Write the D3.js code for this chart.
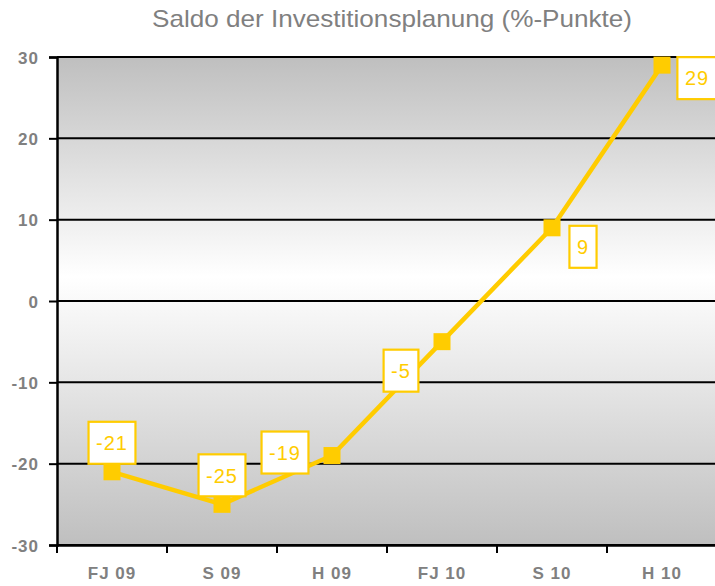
<!DOCTYPE html>
<html><head><meta charset="utf-8">
<script src="https://cdn.jsdelivr.net/npm/d3@7"></script>
<style>html,body{margin:0;padding:0;background:#fff;overflow:hidden}svg{display:block}</style>
</head><body>
<script>
const categories = ["FJ 09", "S 09", "H 09", "FJ 10", "S 10", "H 10"];
const values = [-21, -25, -19, -5, 9, 29];
const yTicks = [-30, -20, -10, 0, 10, 20, 30];
const title = "Saldo der Investitionsplanung (%-Punkte)";
// label box offsets (layout only)
const labelOffsets = [[0, -29], [0, -29], [-47, -3], [-41, 29], [31, 19], [35, 13]];

const W = 715, H = 586;
const m = {left: 57, top: 57, right: -2, bottom: 41};
const svg = d3.select("body").append("svg").attr("width", W).attr("height", H);

const x = d3.scaleBand().domain(categories).range([m.left, W - m.right]).padding(0);
const y = d3.scaleLinear().domain([-30, 30]).range([H - m.bottom, m.top]);
const fmt = d => String(d);

const defs = svg.append("defs");
const g = defs.append("linearGradient").attr("id", "bg").attr("x1", 0).attr("y1", 0).attr("x2", 0).attr("y2", 1);
g.append("stop").attr("offset", "0%").attr("stop-color", "#bfbfbf");
g.append("stop").attr("offset", "45%").attr("stop-color", "#ffffff");
g.append("stop").attr("offset", "100%").attr("stop-color", "#bfbfbf");

svg.append("rect").attr("x", m.left).attr("y", y(30)).attr("width", W - m.right - m.left)
  .attr("height", y(-30) - y(30)).attr("fill", "url(#bg)");

// gridlines
svg.append("g").selectAll("line").data(yTicks).join("line")
  .attr("x1", m.left).attr("x2", W - m.right)
  .attr("y1", d => y(d)).attr("y2", d => y(d))
  .attr("stroke", "#000").attr("stroke-width", 2);

// y axis
const ya = svg.append("g").attr("transform", `translate(${m.left},0)`)
  .call(d3.axisLeft(y).tickValues(yTicks).tickSize(8).tickPadding(10).tickFormat(fmt));
ya.select(".domain").attr("stroke", "#000").attr("stroke-width", 2.5);
ya.selectAll(".tick line").attr("stroke", "#000").attr("stroke-width", 2);
ya.selectAll("text").attr("fill", "#808080").style("font-family", "Liberation Sans, Arial, sans-serif")
  .style("font-size", "17px").style("font-weight", "bold").style("letter-spacing", "1px").attr("dy", "0.36em");

// x axis
const xa = svg.append("g").attr("transform", `translate(0,${y(-30)})`)
  .call(d3.axisBottom(x).tickSize(0).tickPadding(22));
xa.select(".domain").attr("stroke", "#000").attr("stroke-width", 2.5);
xa.selectAll("text").attr("fill", "#808080").style("font-family", "Liberation Sans, Arial, sans-serif")
  .style("font-size", "17px").style("font-weight", "bold").style("letter-spacing", "1px");
const bounds = categories.map(c => x(c));
svg.append("g").selectAll("line").data(bounds).join("line")
  .attr("x1", d => d).attr("x2", d => d).attr("y1", y(-30)).attr("y2", y(-30) + 8)
  .attr("stroke", "#000").attr("stroke-width", 2);

const cx = (d, i) => x(categories[i]) + x.bandwidth() / 2;
const gold = "#FFCC00";

svg.append("path").datum(values)
  .attr("d", d3.line().x(cx).y(d => y(d)))
  .attr("fill", "none").attr("stroke", gold).attr("stroke-width", 4.5).attr("stroke-linejoin", "round");

svg.append("g").selectAll("rect").data(values).join("rect")
  .attr("x", (d, i) => cx(d, i) - 8.5).attr("y", d => y(d) - 8.5)
  .attr("width", 17).attr("height", 17).attr("fill", gold);

// labels
const lg = svg.append("g").selectAll("g").data(values).join("g")
  .attr("transform", (d, i) => `translate(${cx(d, i) + labelOffsets[i][0]},${y(d) + labelOffsets[i][1]})`);
const boxes = lg.append("rect").attr("fill", "#fff").attr("stroke", gold).attr("stroke-width", 2.2);
const texts = lg.append("text").text(fmt)
  .attr("text-anchor", "middle").attr("dy", "0.36em")
  .attr("fill", gold).style("font-family", "Liberation Sans, Arial, sans-serif")
  .style("font-size", "20px").style("letter-spacing", "1px");
texts.each(function (d, i) {
  const bb = this.getBBox();
  const w = bb.width + 15, h = 42;
  d3.select(boxes.nodes()[i]).attr("x", -w / 2).attr("y", -h / 2).attr("width", w).attr("height", h);
});

svg.append("text").attr("x", 392).attr("y", 27).attr("text-anchor", "middle")
  .attr("textLength", 480).attr("lengthAdjust", "spacingAndGlyphs")
  .attr("fill", "#808080").style("font-family", "Liberation Sans, Arial, sans-serif")
  .style("font-size", "24px").text(title);
</script>
</body></html>
